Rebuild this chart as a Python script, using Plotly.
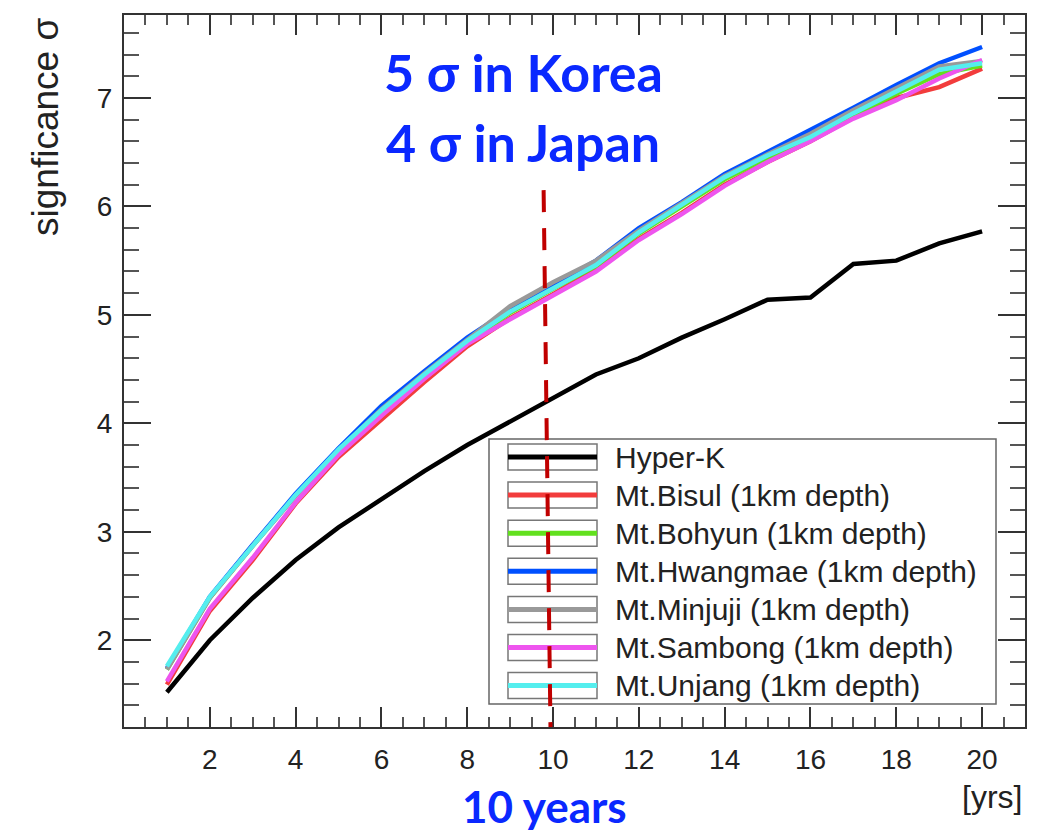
import plotly.graph_objects as go

# ---------------- data ----------------
years = list(range(1, 21))

hyper_k = [1.52, 2.00, 2.39, 2.74, 3.04, 3.30, 3.56, 3.80, 4.02, 4.24,
           4.45, 4.60, 4.79, 4.96, 5.14, 5.16, 5.47, 5.50, 5.66, 5.77]
bisul = [1.59, 2.27, 2.74, 3.26, 3.69, 4.04, 4.38, 4.71, 4.97, 5.19,
         5.42, 5.70, 5.94, 6.20, 6.41, 6.60, 6.82, 7.00, 7.10, 7.27]
bohyun = [1.73, 2.39, 2.87, 3.34, 3.76, 4.12, 4.46, 4.74, 5.02, 5.24,
          5.45, 5.75, 6.00, 6.25, 6.45, 6.63, 6.84, 7.04, 7.22, 7.30]
hwangmae = [1.74, 2.40, 2.88, 3.35, 3.77, 4.16, 4.48, 4.79, 5.05, 5.27,
            5.50, 5.80, 6.04, 6.30, 6.50, 6.70, 6.91, 7.12, 7.32, 7.47]
minjuji = [1.73, 2.39, 2.87, 3.33, 3.75, 4.13, 4.46, 4.77, 5.08, 5.30,
           5.50, 5.78, 6.03, 6.28, 6.48, 6.67, 6.89, 7.09, 7.29, 7.34]
sambong = [1.62, 2.29, 2.76, 3.27, 3.71, 4.07, 4.41, 4.73, 4.96, 5.18,
           5.40, 5.69, 5.93, 6.19, 6.41, 6.60, 6.81, 6.98, 7.18, 7.35]
unjang = [1.76, 2.40, 2.87, 3.34, 3.76, 4.12, 4.45, 4.76, 5.03, 5.25,
          5.46, 5.76, 6.01, 6.27, 6.47, 6.64, 6.86, 7.06, 7.26, 7.32]

series_names = ["Hyper-K", "Mt.Bisul (1km depth)", "Mt.Bohyun (1km depth)",
                "Mt.Hwangmae (1km depth)", "Mt.Minjuji (1km depth)",
                "Mt.Sambong (1km depth)", "Mt.Unjang (1km depth)"]
series_values = [hyper_k, bisul, bohyun, hwangmae, minjuji, sambong, unjang]
series_colors = ["#000000", "#f23c3c", "#62e01e", "#0050ff", "#999999",
                 "#ee55ee", "#55eeee"]

x_ticks = [2, 4, 6, 8, 10, 12, 14, 16, 18, 20]
y_ticks = [2, 3, 4, 5, 6, 7]
marker_year = 10

# ---------------- layout geometry (pixels) ----------------
W, H = 1047, 836
L, R, T, B = 124, 1025, 15, 727


def px(xp):
    return (xp - L) / (R - L)


def py(yp):
    return (B - yp) / (B - T)


fig = go.Figure()

for name, vals, col in zip(series_names, series_values, series_colors):
    fig.add_trace(go.Scatter(x=years, y=vals, mode="lines", name=name,
                             line=dict(color=col, width=4.5),
                             showlegend=False))

axis_font = dict(family="Liberation Sans, Arial, sans-serif", size=28,
                 color="#222222")

fig.update_xaxes(range=[0, 21], tickmode="array", tickvals=x_ticks,
                 ticks="inside", ticklen=20, tickwidth=2, tickcolor="#333333",
                 minor=dict(ticks="inside", ticklen=10, tickwidth=2,
                            tickcolor="#555555", dtick=0.5, tick0=0),
                 showline=True, linecolor="#333333", linewidth=2,
                 mirror="ticks", showgrid=False, zeroline=False,
                 tickfont=axis_font, ticklabelstandoff=6)
fig.update_yaxes(range=[1.2, 7.765], tickmode="array", tickvals=y_ticks,
                 ticks="inside", ticklen=27, tickwidth=2, tickcolor="#333333",
                 minor=dict(ticks="inside", ticklen=15, tickwidth=2,
                            tickcolor="#555555", dtick=0.2, tick0=0),
                 showline=True, linecolor="#333333", linewidth=2,
                 mirror="ticks", showgrid=False, zeroline=False,
                 tickfont=axis_font, ticklabelstandoff=4)

shapes = []
annotations = []

# legend box
lx0, lx1, ly0, ly1 = 489, 996, 439, 704
shapes.append(dict(type="rect", xref="paper", yref="paper",
                   x0=px(lx0), x1=px(lx1), y0=py(ly1), y1=py(ly0),
                   fillcolor="white", line=dict(color="#666666", width=1.5),
                   layer="above"))
row_y = [457 + 38.1 * i for i in range(len(series_names))]
for yc, name, col in zip(row_y, series_names, series_colors):
    shapes.append(dict(type="rect", xref="paper", yref="paper",
                       x0=px(508), x1=px(597), y0=py(yc + 13), y1=py(yc - 13),
                       fillcolor="rgba(0,0,0,0)",
                       line=dict(color="#777777", width=1.5), layer="above"))
    shapes.append(dict(type="line", xref="paper", yref="paper",
                       x0=px(508), x1=px(597), y0=py(yc), y1=py(yc),
                       line=dict(color=col, width=5), layer="above"))
    annotations.append(dict(text=name, xref="paper", yref="paper",
                            x=px(613), y=py(yc), xanchor="left",
                            yanchor="middle", showarrow=False,
                            font=dict(family="Liberation Sans, Arial, sans-serif",
                                      size=30, color="#222222")))

# dashed marker at ten years
shapes.append(dict(type="line", xref="x", yref="y",
                   x0=marker_year - 0.22, y0=6.15,
                   x1=marker_year - 0.06, y1=1.2,
                   line=dict(color="#c00000", width=4, dash="22px,16px"),
                   layer="above"))

blue = "#0a28ff"
big_font = dict(family="Lato, Open Sans, sans-serif", size=52, color=blue)
annotations.append(dict(text="<b>5 σ in Korea</b>", xref="paper", yref="paper",
                        x=px(523), y=py(72), xanchor="center", yanchor="middle",
                        showarrow=False, font=big_font))
annotations.append(dict(text="<b>4 σ in Japan</b>", xref="paper", yref="paper",
                        x=px(523), y=py(142), xanchor="center", yanchor="middle",
                        showarrow=False, font=big_font))
annotations.append(dict(text="<b>10 years</b>", xref="paper", yref="paper",
                        x=px(544), y=py(834), xanchor="center", yanchor="bottom",
                        showarrow=False,
                        font=dict(family="Lato, Open Sans, sans-serif", size=44,
                                  color=blue)))
annotations.append(dict(text="[yrs]", xref="paper", yref="paper",
                        x=px(1024), y=py(797), xanchor="right", yanchor="middle",
                        showarrow=False,
                        font=dict(family="Liberation Sans, Arial, sans-serif",
                                  size=32, color="#222222")))
annotations.append(dict(text="signficance σ", xref="paper", yref="paper",
                        x=px(45), y=py(16), xanchor="center", yanchor="top",
                        textangle=-90, showarrow=False,
                        font=dict(family="Liberation Sans, Arial, sans-serif",
                                  size=37, color="#222222")))

fig.update_layout(width=W, height=H,
                  margin=dict(l=L, r=W - R, t=T, b=H - B),
                  paper_bgcolor="white", plot_bgcolor="white",
                  shapes=shapes, annotations=annotations, showlegend=False)

fig.write_html("out.html")
